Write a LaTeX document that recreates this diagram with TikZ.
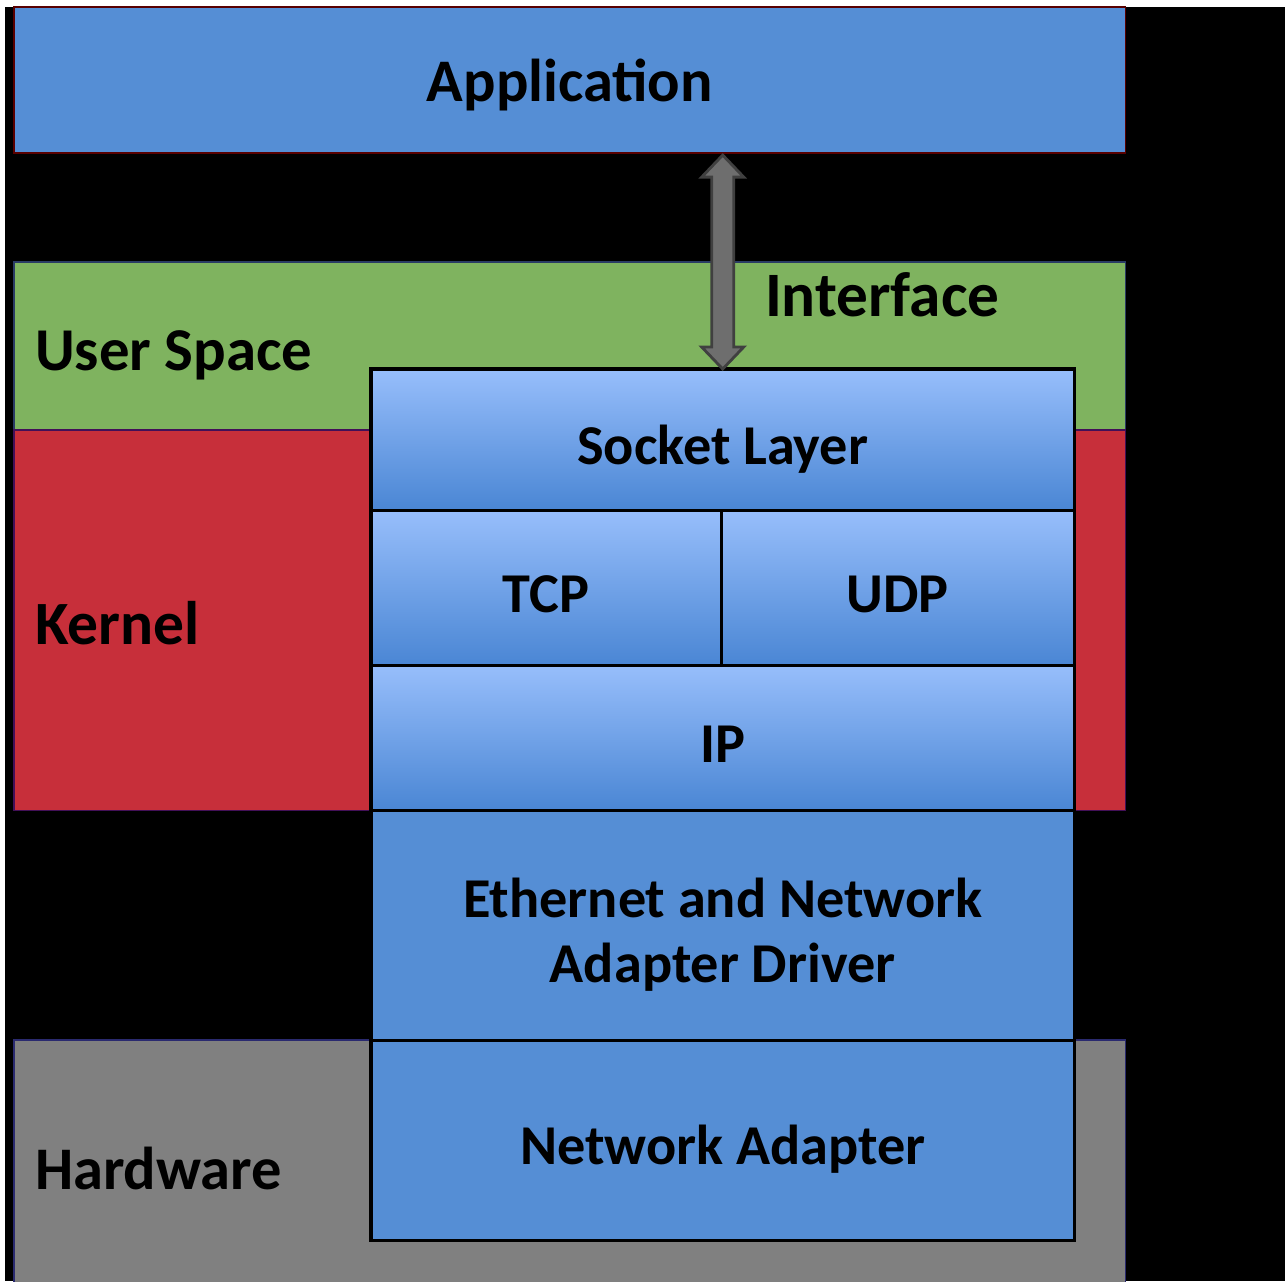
\documentclass[tikz,border=0pt]{standalone}
\usepackage{fontspec}
\setmainfont{Carlito}
\usetikzlibrary{positioning,calc}

\definecolor{appblue}{HTML}{558ED5}
\definecolor{usergreen}{HTML}{7FB35F}
\definecolor{kernred}{HTML}{C72F3A}
\definecolor{hwgray}{HTML}{808080}
\definecolor{socktop}{HTML}{97BEFB}
\definecolor{sockbot}{HTML}{4A86D4}
\definecolor{arrowgray}{HTML}{6E6E6E}

\begin{document}
\begin{tikzpicture}[x=0.01cm, y=-0.01cm,
  every node/.style={font=\bfseries\fontsize{17.5}{18.5}\selectfont, inner sep=0pt, outer sep=0pt},
  layer/.style={fill=#1, draw=#1!55!blue!60!black, line width=0.4pt, minimum width=11.11cm, anchor=north west},
  stack/.style={draw=black, line width=0.9pt, top color=socktop, bottom color=sockbot, anchor=north west,
    font=\bfseries\fontsize{16}{18.5}\selectfont, text height=14pt, text depth=0pt},
  flat/.style={draw=black, line width=0.9pt, fill=appblue, minimum width=7.03cm, anchor=north west, align=center,
    font=\bfseries\fontsize{16}{18.5}\selectfont},
  iface/.style={draw=black!75, line width=0.8pt, fill=arrowgray, line join=miter}]

  % page
  \fill[white] (0,0) rectangle (1285,1281);
  \fill[black] (5,7) rectangle (1285,1281);
  \useasboundingbox (0,0) rectangle (1285,1281);

  % layers
  \node[layer=appblue, draw=red!35!black, minimum height=1.46cm, font=\bfseries\fontsize{17.2}{18.5}\selectfont,
    text height=12pt, text depth=0pt] (app) at (14,7) {Application};
  \node[layer=usergreen, minimum height=1.68cm] (user) at (14,262) {};
  \node[layer=kernred, minimum height=3.80cm] (kern) at (14,430) {};
  \node[layer=hwgray, minimum height=2.45cm] (hw) at (14,1040) {};

  \node[anchor=base west, font=\bfseries\fontsize{17.3}{18.5}\selectfont] (userlbl) at (35,370) {User Space};
  \node[anchor=base west] (kernlbl) at (35,644) {Kernel};
  \node[anchor=base west, font=\bfseries\fontsize{17.2}{18.5}\selectfont] (hwlbl) at (35,1189) {Hardware};
  \node[anchor=base west, font=\bfseries\fontsize{18}{18.5}\selectfont] (ifacelbl) at (765,316) {Interface};

  % protocol stack
  \node[stack, minimum width=7.03cm, minimum height=1.41cm] (sock) at (371,369) {Socket Layer};
  \node[stack, minimum width=3.50cm, minimum height=1.55cm, below right=0pt of sock.south west] (tcp) {TCP};
  \node[stack, minimum width=3.53cm, minimum height=1.55cm, right=0pt of tcp] (udp) {UDP};
  \node[stack, minimum width=7.03cm, minimum height=1.45cm, below right=0pt of tcp.south west] (ip) {IP};
  \node[flat, minimum height=2.30cm, text height=32.6pt, text depth=0pt, below right=0pt of ip.south west] (eth)
    {Ethernet and Network\\Adapter Driver};
  \node[flat, minimum height=2.00cm, text height=13.5pt, text depth=0pt, below right=0pt of eth.south west] (nic)
    {Network Adapter};

  % interface arrow
  \coordinate (t) at ($(app.south -| sock.north)+(0,2)$);
  \coordinate (b) at (sock.north);
  \draw[iface] (t) -- ++(21,22) -- ++(-10,0) -- ($(b)+(11,-22)$) -- ++(10,0) -- (b)
    -- ++(-21,-22) -- ++(10,0) -- ($(t)+(-11,22)$) -- ++(-10,0) -- cycle;
\end{tikzpicture}
\end{document}
